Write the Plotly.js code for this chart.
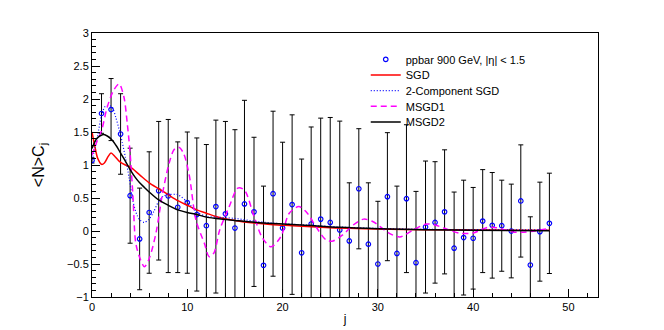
<!DOCTYPE html>
<html>
<head>
<meta charset="utf-8">
<script src="https://cdn.plot.ly/plotly-3.0.1.min.js"></script>
<style>
  body { margin: 0; background: #fff; }
  #chart { width: 664px; height: 330px; }
</style>
</head>
<body>
<div id="chart"></div>
<script>
// Data points (ppbar 900 GeV)
const jVals = [0, 1, 2, 3, 4, 5, 6, 7, 8, 9, 10, 11, 12, 13, 14, 15, 16, 17, 18, 19, 20,
  21, 22, 23, 24, 25, 26, 27, 28, 29, 30, 31, 32, 33, 34, 35, 36, 37, 38, 39, 40,
  41, 42, 43, 44, 45, 46, 47, 48];
const ncVals = [1.07, 1.78, 1.84, 1.47, 0.535, -0.12, 0.28, 0.61, 0.53, 0.36, 0.43,
  0.25, 0.08, 0.37, 0.26, 0.045, 0.41, 0.29, -0.52, 0.565, 0.045,
  0.40, -0.33, 0.106, 0.18, 0.13, 0.015, -0.15, 0.64, -0.20, -0.50,
  0.52, -0.34, 0.49, -0.48, 0.06, 0.13, 0.29, -0.26, -0.10, -0.11,
  0.15, 0.086, 0.08, 0.00, 0.455, -0.515, -0.01, 0.116];
const ncErr = [0.04, 0.30, 0.47, 0.61, 0.72, 0.77, 0.92, 1.05, 1.16, 0.99, 1.07,
  1.16, 1.23, 1.31, 1.40, 1.49, 1.57, 1.13, 1.20, 1.25, 1.30,
  1.36, 1.42, 1.47, 1.53, 1.59, 1.65, 0.88, 0.91, 0.93, 0.95,
  0.97, 1.02, 1.12, 1.08, 1.00, 0.92, 0.94, 0.85, 0.87, 0.77,
  0.78, 0.80, 0.69, 0.71, 0.85, 0.73, 0.75, 0.76];

// Fit curves
const sgdX = [0, 0.3, 0.6, 1.0, 1.3, 1.7, 2.0, 2.4, 2.9, 3.5, 4, 5, 6, 7, 8, 9, 10, 11, 12, 13,
  15, 17, 19, 21, 24, 27, 30, 35, 40, 44, 48];
const sgdY = [1.50, 1.28, 1.10, 1.01, 1.03, 1.13, 1.18, 1.13, 1.05, 1.00, 0.97, 0.85, 0.73, 0.64,
  0.55, 0.46, 0.39, 0.32, 0.27, 0.22, 0.16, 0.12, 0.095, 0.08, 0.055, 0.04, 0.03, 0.02, 0.015, 0.012, 0.01];

const sgd2X = [0, 0.3, 0.6, 1.0, 1.4, 1.8, 2.1, 2.5, 3.0, 3.5, 3.9, 4.3, 4.7, 5.0, 5.5, 6.0, 6.5,
  7.0, 7.5, 8.0, 9.0, 10.0, 11.0, 12.0, 13, 15, 17, 19, 22, 26, 30, 35, 40, 48];
const sgd2Y = [1.08, 1.25, 1.45, 1.75, 1.89, 1.90, 1.88, 1.72, 1.45, 1.12, 0.80, 0.45, 0.25, 0.17,
  0.13, 0.18, 0.30, 0.45, 0.53, 0.55, 0.55, 0.44, 0.29, 0.22, 0.21, 0.19, 0.15, 0.12, 0.095,
  0.06, 0.04, 0.025, 0.02, 0.015];

const msgd1X = [0, 0.5, 1.0, 1.6, 2.3, 2.85, 3.35, 3.7, 4.0, 4.3, 4.6, 5.1, 5.5, 6.0, 6.7, 7.4,
  8.1, 8.6, 9.1, 9.6, 10.2, 10.9, 11.8, 12.3, 12.8, 13.4, 14.4, 15.3, 16.0, 17.0, 17.9, 18.8,
  19.8, 20.7, 21.7, 22.6, 23.5, 24.6, 25.3, 26.3, 27.4, 28.5, 29.5, 31.2, 32.3, 33.7, 35.1,
  36.0, 37.5, 38.6, 40.0, 41.4, 42.4, 44.2, 45.1, 46.5, 48];
const msgd1Y = [1.15, 1.35, 1.52, 1.88, 2.14, 2.23, 2.03, 1.63, 1.18, 0.52, -0.19, -0.44, -0.54,
  -0.42, -0.04, 0.57, 1.03, 1.23, 1.27, 1.18, 0.85, 0.17, -0.19, -0.39, -0.33, 0.015, 0.37,
  0.65, 0.62, 0.22, -0.11, -0.24, -0.09, 0.27, 0.37, 0.27, 0.065, -0.14, -0.15, -0.06, 0.09,
  0.18, 0.14, -0.035, -0.09, 0.015, 0.106, 0.09, 0.015, -0.035, -0.03, 0.05, 0.05, -0.015,
  -0.02, 0.0, 0.04];

const msgd2X = [0, 0.5, 1.1, 1.6, 2.1, 2.6, 3.0, 3.5, 4.0, 4.5, 5.0, 5.5, 6.0, 7.0, 8.0, 9.0,
  10.0, 11.0, 12.0, 13.0, 15, 18, 22, 26, 30, 35, 40, 48];
const msgd2Y = [1.25, 1.40, 1.46, 1.44, 1.38, 1.28, 1.18, 1.06, 0.93, 0.82, 0.73, 0.66, 0.59,
  0.47, 0.39, 0.32, 0.28, 0.25, 0.21, 0.19, 0.16, 0.12, 0.09, 0.055, 0.035, 0.02, 0.01, 0.005];

const fontFam = '"Liberation Sans", Arial, sans-serif';

const tracePoints = {
  x: jVals,
  y: ncVals,
  error_y: {type: 'data', array: ncErr, visible: true, color: '#000', thickness: 1, width: 2.5},
  type: 'scatter',
  mode: 'markers',
  marker: {symbol: 'circle-open', size: 4.5, color: '#0000ff', line: {width: 1.2, color: '#0000ff'}},
  name: 'ppbar 900 GeV, |η| &lt; 1.5',
  legend: 'legend'
};

function curve(x, y, name, color, dash, width, leg) {
  return {
    x: x,
    y: y,
    type: 'scatter',
    mode: 'lines',
    line: {color: color, width: width, dash: dash, shape: 'spline', smoothing: 0.8},
    name: name,
    legend: leg
  };
}

const traces = [
  tracePoints,
  curve(sgdX, sgdY, 'SGD', '#ff0000', 'solid', 1.5, 'legend2'),
  curve(sgd2X, sgd2Y, '2-Component SGD', '#0000ff', '1px,2px', 1.2, 'legend3'),
  curve(msgd1X, msgd1Y, 'MSGD1', '#ff00ff', '6px,4px', 1.5, 'legend4'),
  curve(msgd2X, msgd2Y, 'MSGD2', '#000000', 'solid', 1.5, 'legend5')
];

// one legend per row so rows can sit closer than plotly's default spacing
function legendAt(y) {
  return {
    x: 0.541, y: y, xanchor: 'left', yanchor: 'top',
    bgcolor: 'rgba(0,0,0,0)', borderwidth: 0,
    font: {family: fontFam, size: 11, color: '#000'}
  };
}

const layout = {
  width: 664,
  height: 330,
  margin: {l: 92, r: 66, t: 33, b: 33},
  paper_bgcolor: '#fff',
  plot_bgcolor: '#fff',
  font: {family: fontFam, size: 11, color: '#000'},
  showlegend: true,
  legend: legendAt(0.955),
  legend2: legendAt(0.896),
  legend3: legendAt(0.837),
  legend4: legendAt(0.777),
  legend5: legendAt(0.718),
  xaxis: {
    range: [0, 53.1],
    dtick: 10,
    ticks: 'inside',
    ticklen: 8,
    tickcolor: '#000',
    minor: {dtick: 2, ticks: 'inside', ticklen: 4, tickcolor: '#000'},
    showline: true, linecolor: '#000', linewidth: 1, mirror: true,
    showgrid: false, zeroline: false,
    tickfont: {size: 11},
    title: {text: 'j', font: {size: 12}, standoff: 2}
  },
  yaxis: {
    range: [-1, 3],
    dtick: 0.5,
    ticks: 'inside',
    ticklen: 8,
    tickcolor: '#000',
    minor: {dtick: 0.1, ticks: 'inside', ticklen: 4, tickcolor: '#000'},
    showline: true, linecolor: '#000', linewidth: 1, mirror: true,
    showgrid: false, zeroline: false,
    tickfont: {size: 11},
    title: {text: '&lt;N&gt;C<sub>j</sub>', font: {size: 16}, standoff: 18}
  }
};

Plotly.newPlot('chart', traces, layout, {staticPlot: true});
</script>
</body>
</html>
